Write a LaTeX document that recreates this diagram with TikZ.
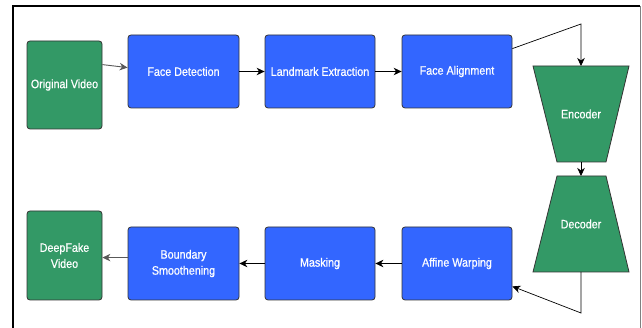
\documentclass[tikz,border=0pt]{standalone}
\usepackage{fontspec}
\setmainfont{Liberation Sans}[FakeStretch=0.88,FakeBold=0.6]
\usetikzlibrary{arrows.meta,calc}
\definecolor{boxblue}{HTML}{3366FF}
\definecolor{boxgreen}{HTML}{339966}
\definecolor{edge}{HTML}{333333}
\begin{document}
\begin{tikzpicture}[x=1pt,y=-1pt,
  box/.style={draw=edge, line width=0.8pt, rounded corners=3pt, fill=boxblue, text=white,
    inner sep=0pt, align=center, font=\fontsize{12.2}{16}\selectfont},
  gbox/.style={box, fill=boxgreen},
  lbl/.style={text=white, font=\fontsize{12.2}{16}\selectfont, inner sep=0pt},
  arr/.style={draw=black, line width=0.7pt, -{Stealth[length=8pt,width=7.5pt,inset=2.5pt]}},
  garr/.style={arr, draw=black!65, line width=0.9pt}
]
\useasboundingbox (0,0) rectangle (642,328);
\draw[black, line width=1.5pt] (13,328) -- (13,6) -- (640,6);
\draw[gray, line width=0.8pt] (640,6) -- (640,328);

% top row
\node[gbox, minimum width=75pt, minimum height=88pt] (ov) at (64.5,85) {Original Video};
\node[box, minimum width=111pt, minimum height=73pt] (fd) at (183.5,71.5) {Face Detection};
\node[box, minimum width=110pt, minimum height=73pt] (le) at (320,71.5) {Landmark Extraction};
\node[box, minimum width=110pt, minimum height=73pt] (fa) at (457,71.5) {Face Alignment};

% encoder / decoder
\draw[draw=edge, line width=0.8pt, fill=boxgreen] (533,66) -- (629,66) -- (606,162) -- (557,162) -- cycle;
\node[lbl] (enc) at (581,114) {Encoder};
\coordinate (enctop) at (581,66);
\coordinate (encbot) at (581,162);
\draw[draw=edge, line width=0.8pt, fill=boxgreen] (557,176) -- (606,176) -- (629,272) -- (533,272) -- cycle;
\node[lbl] (dec) at (581,224) {Decoder};
\coordinate (dectop) at (581,176);
\coordinate (decbot) at (581,272);

% bottom row
\node[box, minimum width=110pt, minimum height=73pt] (aw) at (457,263.5) {Affine Warping};
\node[box, minimum width=110pt, minimum height=73pt] (mk) at (320,263.5) {Masking};
\node[box, minimum width=111pt, minimum height=73pt] (bs) at (183.5,263.5) {Boundary\\Smoothening};
\node[gbox, minimum width=75pt, minimum height=89pt] (dv) at (64.5,255.5) {DeepFake\\Video};

% connectors
\coordinate (c1) at (581,24);
\coordinate (c2) at (581,313);
\draw[garr] ($(ov.north east)+(0,24)$) -- ($(fd.north west)+(0,33)$);
\draw[arr] (fd.east) -- (le.west);
\draw[arr] (le.east) -- (fa.west);
\draw[arr] ($(fa.north east)+(0,14)$) -- (c1) -- (enctop);
\draw[arr] (encbot) -- (dectop);
\draw[arr] (decbot) -- (c2) -- ($(aw.south east)+(0,-14)$);
\draw[arr] (aw.west) -- (mk.east);
\draw[arr] (mk.west) -- (bs.east);
\draw[garr] ($(bs.north west)+(0,31)$) -- ($(dv.north east)+(0,47)$);
\end{tikzpicture}
\end{document}
